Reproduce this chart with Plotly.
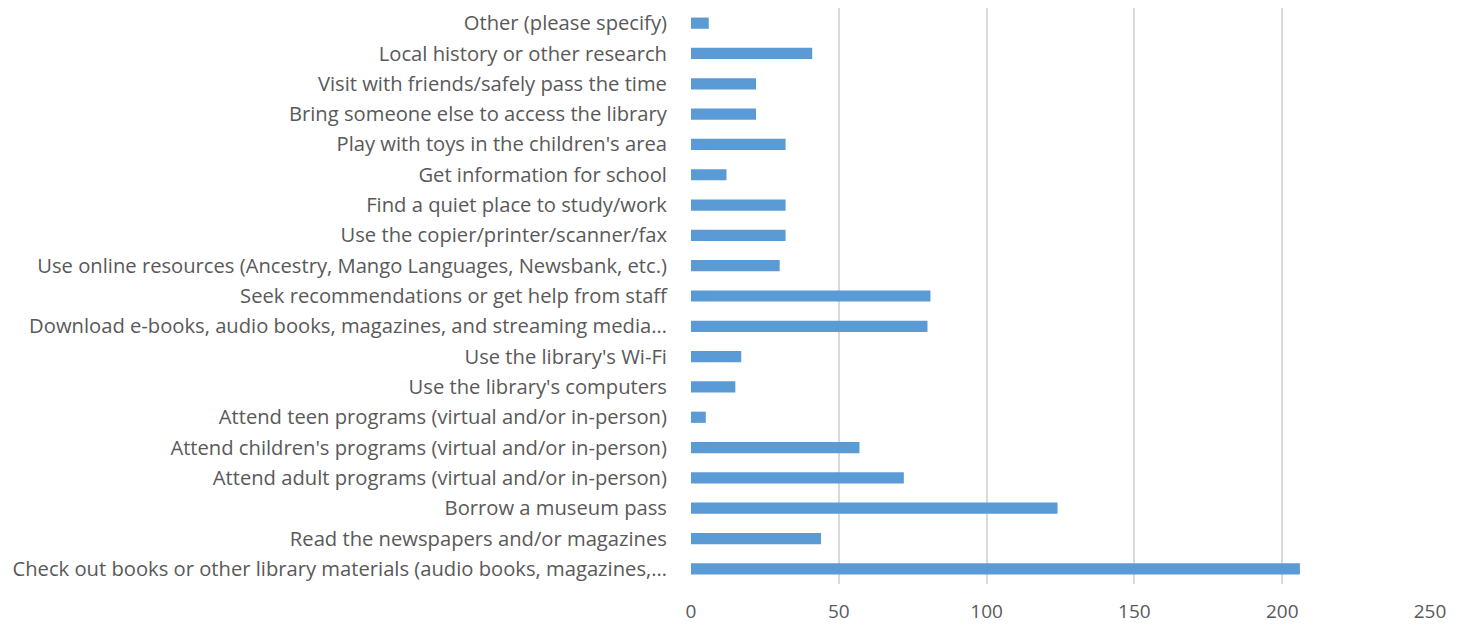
import plotly.graph_objects as go

CATEGORIES = [
    "Check out books or other library materials (audio books, magazines,…",
    "Read the newspapers and/or magazines",
    "Borrow a museum pass",
    "Attend adult programs (virtual and/or in-person)",
    "Attend children's programs (virtual and/or in-person)",
    "Attend teen programs (virtual and/or in-person)",
    "Use the library's computers",
    "Use the library's Wi-Fi",
    "Download e-books, audio books, magazines, and streaming media…",
    "Seek recommendations or get help from staff",
    "Use online resources (Ancestry, Mango Languages, Newsbank, etc.)",
    "Use the copier/printer/scanner/fax",
    "Find a quiet place to study/work",
    "Get information for school",
    "Play with toys in the children's area",
    "Bring someone else to access the library",
    "Visit with friends/safely pass the time",
    "Local history or other research",
    "Other (please specify)",
]
COUNTS = [206, 44, 124, 72, 57, 5, 15, 17, 80, 81, 30, 32, 32, 12, 32, 22, 22, 41, 6]
X_TICKS = [0, 50, 100, 150, 200, 250]

FONT = "'Open Sans', Lato, sans-serif"
TEXT_GREY = "#595959"

fig = go.Figure(
    go.Bar(
        x=COUNTS,
        y=CATEGORIES,
        orientation="h",
        marker=dict(color="#5B9BD5", line=dict(width=0)),
        hovertemplate="%{y}: %{x}<extra></extra>",
    )
)

# the page has an 8px body margin, so the figure is 8px smaller each way
fig.update_layout(
    width=1463,
    height=616,
    margin=dict(l=683, r=41, t=0, b=40),
    paper_bgcolor="white",
    plot_bgcolor="white",
    bargap=0.63,
    showlegend=False,
    font=dict(family=FONT, size=20, color=TEXT_GREY),
)

fig.update_xaxes(
    range=[0, 250],
    tickvals=X_TICKS,
    showgrid=True,
    gridcolor="#D9D9D9",
    gridwidth=1.5,
    zeroline=False,
    showline=False,
    ticks="outside",
    ticklen=10,
    tickcolor="rgba(0,0,0,0)",
    tickfont=dict(size=19, color=TEXT_GREY),
    automargin=False,
)

fig.update_yaxes(
    categoryorder="array",
    categoryarray=CATEGORIES,
    showgrid=False,
    showline=False,
    ticks="outside",
    ticklen=19,
    tickcolor="rgba(0,0,0,0)",
    tickfont=dict(size=20.2, color=TEXT_GREY),
    automargin=False,
)

fig.write_html("out.html")
